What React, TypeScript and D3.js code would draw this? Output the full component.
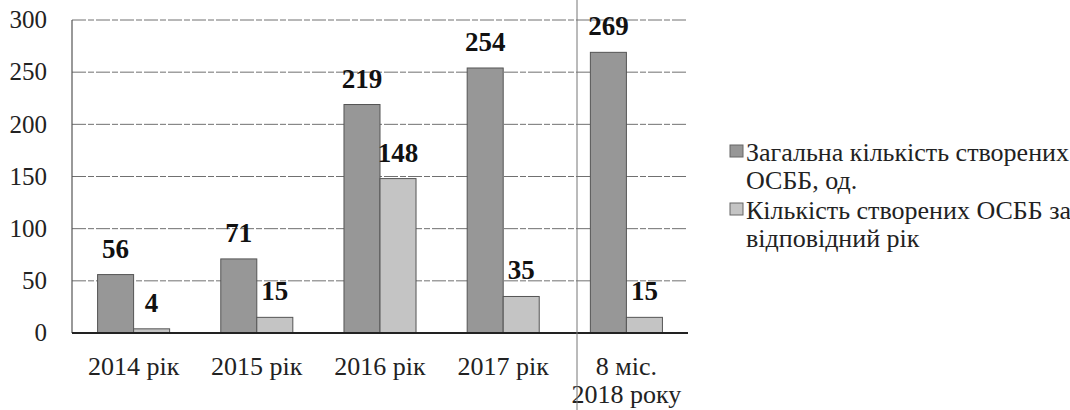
import React from "react";
import * as d3 from "d3";

const categories: string[][] = [["2014 рік"], ["2015 рік"], ["2016 рік"], ["2017 рік"], ["8 міс.", "2018 року"]];
const totalValues = [56, 71, 219, 254, 269];
const yearValues = [4, 15, 148, 35, 15];
const yTicks = [0, 50, 100, 150, 200, 250, 300];
const seriesNames = [["Загальна кількість створених", "ОСББ, од."], ["Кількість створених ОСББ за", "відповідний рік"]];
const seriesColors = ["#979797", "#c4c4c4"];

const W = 1070, H = 410;
const FONT = "Liberation Serif";

export default function App() {
  const left = 72, right = 688, top = 20, bottom = 333;
  const keys = categories.map((c) => c.join(" "));
  const x0 = d3.scaleBand<string>().domain(keys).range([left, right]).padding(0);
  const x1 = d3.scaleBand<string>().domain(["total", "year"]).range([0, x0.bandwidth()]).paddingInner(0).paddingOuter(0.71);
  const y = d3.scaleLinear().domain([0, 300]).range([bottom, top]);
  const series = [
    { key: "total", values: totalValues, color: seriesColors[0] },
    { key: "year", values: yearValues, color: seriesColors[1] },
  ];
  const ts = { fontFamily: FONT } as React.CSSProperties;
  return (
    <svg width={W} height={H} style={{ position: "absolute", left: 0, top: 0, background: "#fff" }}>
      <rect x={0} y={0} width={W} height={H} fill="#fff" />
      {yTicks.map((t) => (
        <g key={t}>
          {t > 0 && (
            <line x1={left} x2={right} y1={y(t)} y2={y(t)} stroke="#707070" strokeWidth={1} strokeDasharray="14 2 6 2" />
          )}
          <text style={ts} x={47} y={y(t)} dy="0.33em" textAnchor="end" fontSize={25} fill="#222">{t}</text>
        </g>
      ))}
      <line x1={left} x2={left} y1={top} y2={bottom} stroke="#555" strokeWidth={1.2} />
      {series.map((s) =>
        s.values.map((v, i) => {
          const bx = (x0(keys[i]) as number) + (x1(s.key) as number);
          const bw = x1.bandwidth();
          return (
            <g key={s.key + i}>
              <rect x={bx} y={y(v)} width={bw} height={bottom - y(v)} fill={s.color} stroke="#555" strokeWidth={1} />
              <text style={ts} x={bx + bw / 2} y={y(v) - 17} textAnchor="middle" fontSize={27} fontWeight="bold" fill="#111">{v}</text>
            </g>
          );
        })
      )}
      <line x1={left} x2={right} y1={bottom} y2={bottom} stroke="#222" strokeWidth={2} />
      {categories.map((c, i) => (
        <text style={ts} key={i} x={(x0(keys[i]) as number) + x0.bandwidth() / 2} y={375} textAnchor="middle" fontSize={26} fill="#222">
          {c.map((line, j) => (
            <tspan key={j} x={(x0(keys[i]) as number) + x0.bandwidth() / 2} dy={j === 0 ? 0 : 28}>{line}</tspan>
          ))}
        </text>
      ))}
      {seriesNames.map((lines, i) => (
        <g key={i}>
          <rect x={730} y={145 + i * 58} width={13} height={12} fill={seriesColors[i]} stroke="#666" strokeWidth={1} />
          <text style={ts} x={746} y={161 + i * 58} fontSize={26} fill="#222">
            {lines.map((l, j) => (
              <tspan key={j} x={746} dy={j === 0 ? 0 : 28}>{l}</tspan>
            ))}
          </text>
        </g>
      ))}
      <line x1={577} x2={577} y1={0} y2={H} stroke="#777" strokeWidth={1} />
    </svg>
  );
}
